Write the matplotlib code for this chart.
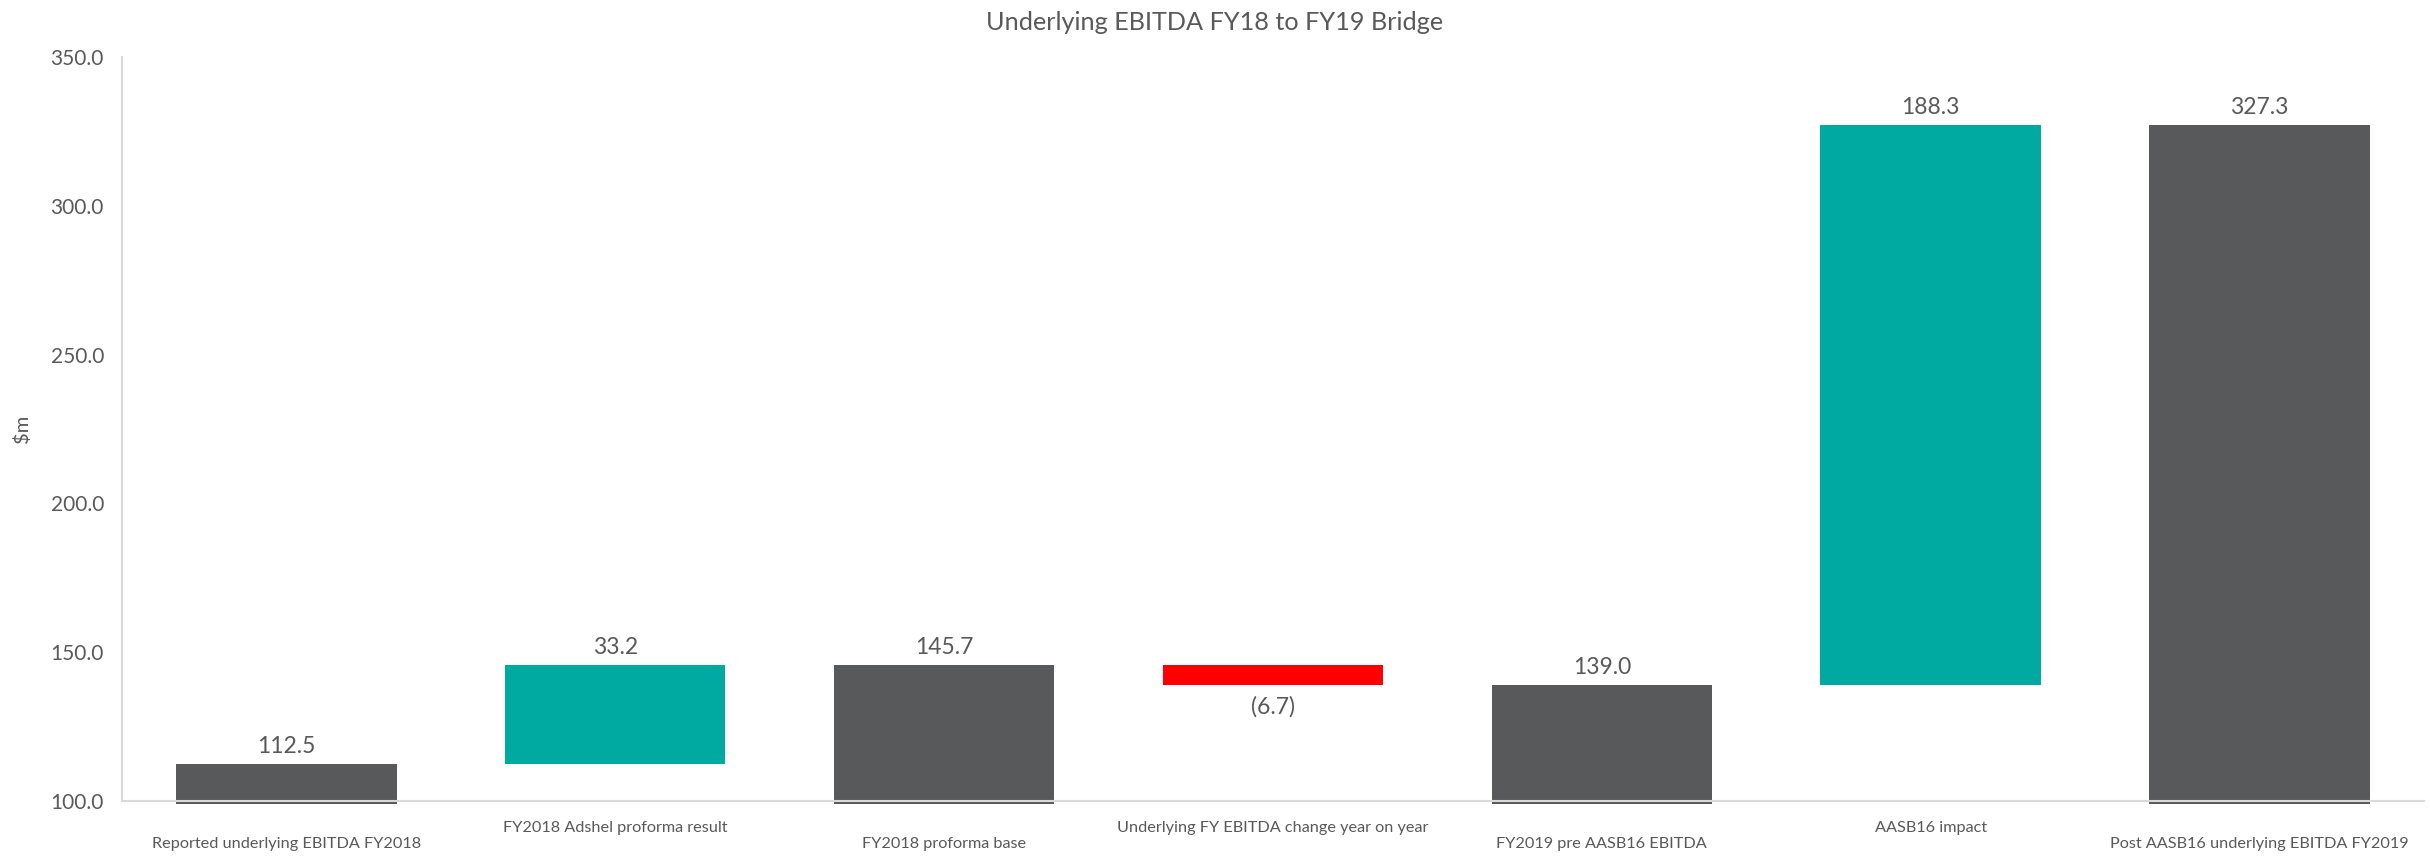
import matplotlib
matplotlib.use("Agg")
import matplotlib.pyplot as plt
import matplotlib.transforms as mtransforms
import numpy as np

categories = ["Reported underlying EBITDA FY2018", "FY2018 Adshel proforma result",
              "FY2018 proforma base", "Underlying FY EBITDA change year on year",
              "FY2019 pre AASB16 EBITDA", "AASB16 impact",
              "Post AASB16 underlying EBITDA FY2019"]
values = [112.5, 33.2, 145.7, -6.7, 139.0, 188.3, 327.3]
kinds = ["total", "delta", "total", "delta", "total", "delta", "total"]
labels = ["112.5", "33.2", "145.7", "(6.7)", "139.0", "188.3", "327.3"]
yticks = [100.0, 150.0, 200.0, 250.0, 300.0, 350.0]

DARK = "#58595B"
TEAL = "#00AAA0"
RED = "#FF0000"
TXT = "#595959"
FONT = ["Lato", "DejaVu Sans"]
plt.rcParams["font.family"] = FONT

fig = plt.figure(figsize=(24.3, 8.61), dpi=100)
ax = fig.add_axes([0.0502, 0.0697, 0.9473, 0.8641])
ymin, ymax = yticks[0], yticks[-1]
ax.set_ylim(ymin, ymax)
ax.set_xlim(-0.5, len(categories) - 0.5)

x = np.arange(len(categories))
running = 0.0
below = 1.1  # bars drop just under the axis line
for i, (v, k) in enumerate(zip(values, kinds)):
    if k == "total":
        bottom, top = ymin - below, v
        running = v
        color = DARK
    else:
        start = running
        running = running + v
        bottom, top = min(start, running), max(start, running)
        color = TEAL if v >= 0 else RED
    ax.bar(x[i], top - bottom, bottom=bottom, width=0.67, color=color,
           clip_on=False, zorder=2, linewidth=0)
    if v >= 0:
        ax.annotate(labels[i], (x[i], top), xytext=(0, 12.5), textcoords="offset points",
                    ha="center", va="center", fontsize=16.5, color=TXT)
    else:
        ax.annotate(labels[i], (x[i], bottom), xytext=(0, -16), textcoords="offset points",
                    ha="center", va="center", fontsize=16.5, color=TXT)

for s in ["top", "right"]:
    ax.spines[s].set_visible(False)
for s in ["left", "bottom"]:
    ax.spines[s].set_color("#D9D9D9")
    ax.spines[s].set_linewidth(1.5)
    ax.spines[s].set_zorder(3)

ax.set_yticks(yticks)
ax.set_yticklabels([f"{t:.1f}" for t in yticks])
ax.tick_params(axis="y", length=0, pad=13, labelsize=15, labelcolor=TXT)
ax.set_xticks([])

trans = mtransforms.blended_transform_factory(ax.transData, ax.transAxes)
for i, c in enumerate(categories):
    off = -31 if i % 2 == 0 else -19.5
    ax.annotate(c, (x[i], 0), xycoords=trans, xytext=(0, off), textcoords="offset points",
                ha="center", va="center", fontsize=11.7, color=TXT)

fig.text(0.0091, 0.5017, "$m", rotation=90, ha="center", va="center", fontsize=14.5, color=TXT)
fig.text(0.5, 0.974, "Underlying EBITDA FY18 to FY19 Bridge", ha="center", va="center",
         fontsize=18.2, color=TXT)

fig.savefig("out.png", dpi=100)
